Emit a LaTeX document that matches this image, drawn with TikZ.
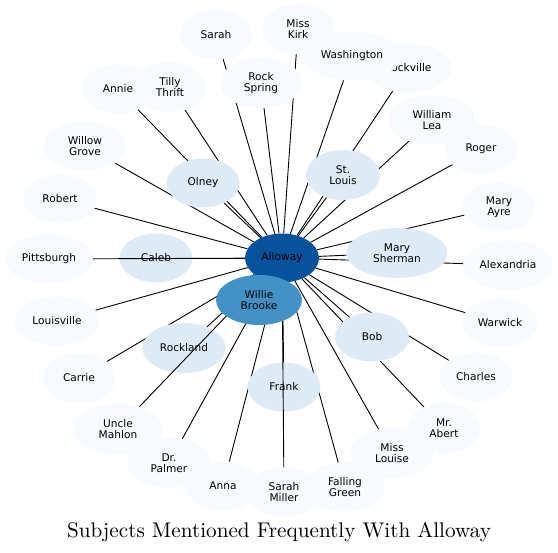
\documentclass[tikz,border=0pt]{standalone}
\usepackage{fontspec}
\newfontfamily\dvsans{DejaVu Sans}
\newfontfamily\titlefont{lmroman10-regular}[Extension=.otf]
\usetikzlibrary{shapes.geometric}
\pgfdeclarelayer{edgesA}
\pgfdeclarelayer{midnodes}
\pgfdeclarelayer{edgesB}
\pgfsetlayers{edgesA,midnodes,edgesB,main}
\definecolor{periph}{HTML}{F7FBFF}
\definecolor{midblue}{HTML}{DEEBF7}
\definecolor{wbblue}{HTML}{4292C6}
\definecolor{alloblue}{HTML}{08519C}
\begin{document}
\begin{tikzpicture}[x=1pt,y=-1pt,
  bub/.style={ellipse, draw=none, inner sep=0pt, minimum width=73pt, minimum height=49pt,
              align=center, text=black, font=\dvsans\fontsize{10.6}{11}\selectfont},
  outer/.style={bub, fill=periph},
  innerb/.style={bub, fill=midblue},
  link/.style={draw=black, line width=0.9pt}]
\useasboundingbox (0,0) rectangle (558,553);

% intermediate nodes
\begin{pgfonlayer}{midnodes}
\node[innerb] (olney) at (203,183) {Olney};
\node[innerb, minimum width=74pt, minimum height=50pt] (stlouis) at (343,175) {St.\\Louis};
\node[innerb] (caleb) at (156,258) {Caleb};
\node[innerb, minimum width=101pt, minimum height=50pt] (marysherman) at (397,253) {Mary\\Sherman};
\node[innerb, minimum width=83pt, minimum height=50pt] (rockland) at (184,348) {Rockland};
\node[innerb, minimum width=74pt] (bob) at (372,337) {Bob};
\node[innerb] (frank) at (284,387) {Frank};
\end{pgfonlayer}

% outer nodes
\node[outer] (sarah) at (216,35) {Sarah};
\node[outer, minimum height=50pt] (misskirk) at (298,29) {Miss\\Kirk};
\node[outer, minimum width=88pt] (rockville) at (408,68) {Rockville};
\node[outer, minimum width=98pt] (washington) at (352,56) {Washington};
\node[outer, minimum width=82pt, minimum height=50pt] (rockspring) at (261,83) {Rock\\Spring};
\node[outer] (annie) at (118,89) {Annie};
\node[outer, minimum height=50pt] (tilly) at (170,87) {Tilly\\Thrift};
\node[outer, minimum width=88pt] (williamlea) at (432,120) {William\\Lea};
\node[outer] (roger) at (481,149) {Roger};
\node[outer, minimum width=83pt] (willow) at (85,146) {Willow\\Grove};
\node[outer, minimum width=74pt] (robert) at (60,199) {Robert};
\node[outer] (maryayre) at (499,207) {Mary\\Ayre};
\node[outer, minimum width=88pt] (pittsburgh) at (49,259) {Pittsburgh};
\node[outer, minimum width=90pt] (alexandria) at (508,265) {Alexandria};
\node[outer, minimum width=85pt] (louisville) at (57,321) {Louisville};
\node[outer, minimum width=76pt] (warwick) at (500,323) {Warwick};
\node[outer, minimum height=50pt] (carrie) at (79,378) {Carrie};
\node[outer] (charles) at (476,377) {Charles};
\node[outer, minimum width=90pt, minimum height=50pt] (unclemahlon) at (118,429) {Uncle\\Mahlon};
\node[outer, minimum width=84pt, minimum height=50pt] (drpalmer) at (169,463) {Dr.\\Palmer};
\node[outer] (anna) at (223,486) {Anna};
\node[outer, minimum width=74pt] (sarahmiller) at (284,492) {Sarah\\Miller};
\node[outer, minimum width=80pt] (falling) at (345,487) {Falling\\Green};
\node[outer, minimum width=84pt, minimum height=50pt] (misslouise) at (392,453) {Miss\\Louise};
\node[outer, minimum width=72pt, minimum height=50pt] (mrabert) at (444,428) {Mr.\\Abert};

% centre
\node[bub, fill=alloblue, minimum width=74pt] (alloway) at (282,258) {Alloway};
\node[bub, fill=wbblue, minimum width=86pt, minimum height=50pt] (willie) at (259,300) {Willie\\Brooke};

% title
\node (title) at (279,532) {\titlefont\fontsize{21.2}{24}\selectfont Subjects Mentioned Frequently With Alloway};

% edges under the intermediate nodes
\begin{pgfonlayer}{edgesA}
\foreach \n in {sarah,misskirk,rockville,washington,rockspring,annie,tilly,williamlea,roger,willow,
  robert,maryayre,alexandria,louisville,warwick,carrie,charles,drpalmer,anna,falling,misslouise,mrabert,
  olney,stlouis,caleb,marysherman,rockland,bob,frank,willie}
  \draw[link] (\n) -- (alloway);
\end{pgfonlayer}

% edges over the intermediate nodes
\begin{pgfonlayer}{edgesB}
\foreach \n in {pittsburgh,unclemahlon,sarahmiller}
  \draw[link] (\n) -- (alloway);
\end{pgfonlayer}
\end{tikzpicture}
\end{document}
